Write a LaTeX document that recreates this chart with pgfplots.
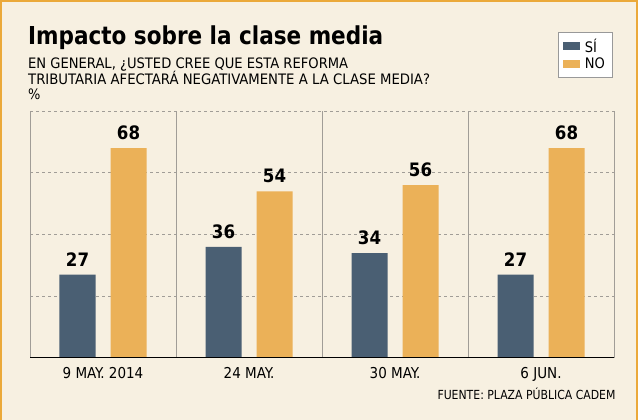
\documentclass[border=0pt]{standalone}
\usepackage{fontspec}
\setmainfont{DejaVu Sans Condensed}
\usepackage{pgfplots}
\pgfplotsset{compat=1.18}
\definecolor{bg}{HTML}{F7F0E1}
\definecolor{framec}{HTML}{EBA93A}
\definecolor{si}{HTML}{4A5F73}
\definecolor{no}{HTML}{EBB158}
\definecolor{gridc}{HTML}{A19D97}
\begin{document}
\begin{tikzpicture}[x=1pt,y=1pt]
\useasboundingbox (0,0) rectangle (640,420);
\fill[white] (0,0) rectangle (640,420);
\fill[bg] (0,0) rectangle (637,420);
\draw[framec, line width=2pt] (1,0) -- (1,419) -- (637,419) -- (637,0);
% title block
\node[anchor=base west, inner sep=0pt] at (28,375.7)
  {\resizebox{355pt}{\height}{\fontsize{24.7}{28}\selectfont\bfseries Impacto sobre la clase media}};
\node[anchor=base west, inner sep=0pt] at (28,351)
  {\resizebox{320pt}{\height}{\fontsize{14.4}{17}\selectfont EN GENERAL, ¿USTED CREE QUE ESTA REFORMA}};
\node[anchor=base west, inner sep=0pt] at (28,335.7)
  {\resizebox{402pt}{\height}{\fontsize{14.4}{17}\selectfont TRIBUTARIA AFECTARÁ NEGATIVAMENTE A LA CLASE MEDIA?}};
\node[anchor=base west, inner sep=0pt] at (28,320)
  {\fontsize{14.4}{17}\selectfont \%};
% source
\node[anchor=base east, inner sep=0pt] at (615.7,20)
  {\resizebox{178pt}{\height}{\fontsize{12.5}{15}\selectfont FUENTE: PLAZA PÚBLICA CADEM}};
\begin{axis}[
  at={(30pt,62pt)}, anchor=south west,
  scale only axis, width=584pt, height=247pt,
  xmin=-0.5, xmax=3.5, ymin=0, ymax=80,
  axis line style={draw=none},
  major tick length=0pt, minor tick length=0pt,
  xtick={0,1,2,3},
  xticklabels={9 MAY. 2014, 24 MAY., 30 MAY., 6 JUN.},
  minor xtick={-0.5,0.5,1.5,2.5,3.5},
  xminorgrids,
  minor grid style={gridc, line width=0.9pt, solid},
  ytick={20,40,60,80}, yticklabels={},
  ymajorgrids,
  major grid style={gridc, line width=0.8pt, dash pattern=on 3pt off 3pt},
  xticklabel style={font=\fontsize{15}{18}\selectfont, anchor=base, inner sep=0pt, yshift=-20.3pt},
  ybar, bar width=36pt,
  nodes near coords,
  nodes near coords style={font=\fontsize{18.5}{21}\selectfont\bfseries, inner sep=0pt, anchor=south, yshift=8pt},
  /pgf/number format/assume math mode=true,
  legend style={at={(0.9966,1.32)}, anchor=north east, draw=gray!80, fill=white,
    font=\fontsize{14.5}{16}\selectfont, inner xsep=5pt, inner ysep=4.5pt, row sep=0.5pt,
    cells={anchor=west},
    /tikz/every odd column/.append style={column sep=2.5pt}},
  legend image code/.code={\fill[#1] (0pt,-4pt) rectangle (17pt,4pt);},
]
\addplot[fill=si, draw=none, bar shift=-25.5pt] coordinates {(0,27) (1,36) (2,34) (3,27)};
\addplot[fill=no, draw=none, bar shift=25.5pt] coordinates {(0,68) (1,54) (2,56) (3,68)};
\legend{SÍ, NO}
\draw[black, line width=1.3pt] (rel axis cs:0,0) -- (rel axis cs:1,0);
\end{axis}
\end{tikzpicture}
\end{document}
